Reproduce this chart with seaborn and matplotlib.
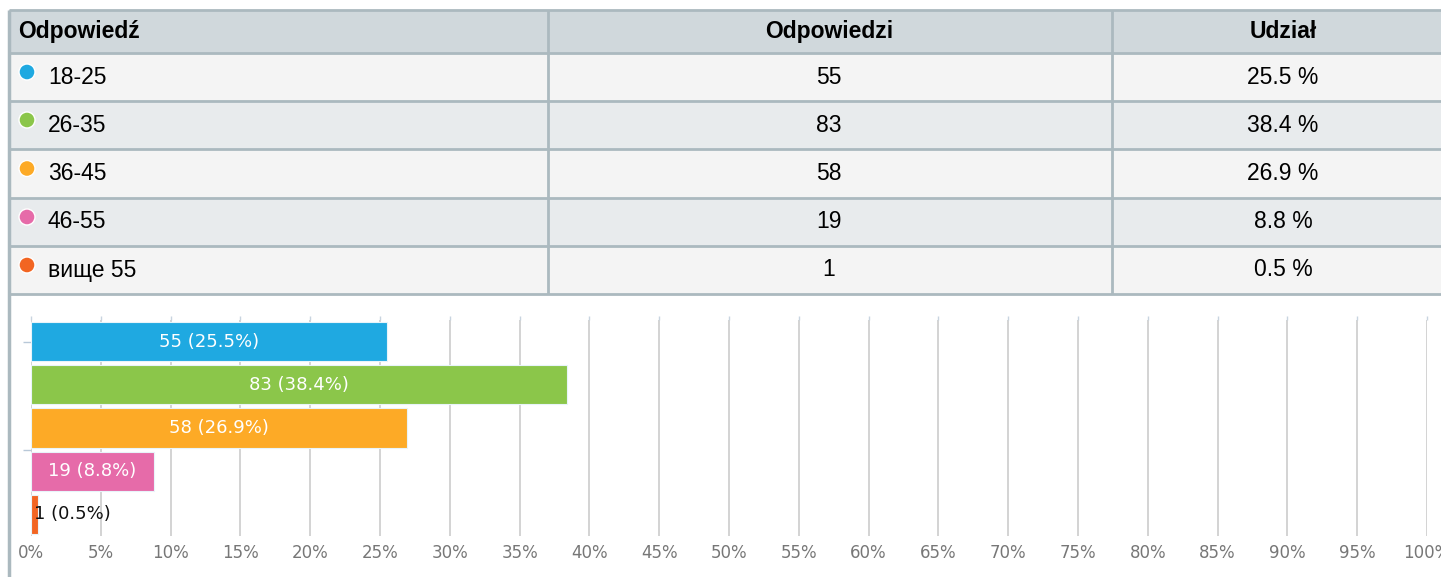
import matplotlib

matplotlib.use("Agg")

import matplotlib.pyplot as plt
import pandas as pd
import seaborn as sns
from matplotlib.patches import Circle, Rectangle

AGE_GROUPS = ["18-25", "26-35", "36-45", "46-55", "вище 55"]
COUNTS = [55, 83, 58, 19, 1]
SHARES = [25.5, 38.4, 26.9, 8.8, 0.5]
COLORS = ["#1fa9e1", "#8bc64a", "#fdaa26", "#e66ba9", "#f26522"]
HEADERS = ["Odpowiedź", "Odpowiedzi", "Udział"]
X_TICKS = list(range(0, 101, 5))

W, H = 1441, 577
BORDER = "#abb9bf"
HEADER_BG = "#d0d8dc"
ROW_BG = ["#f4f4f4", "#e8ebed"]
TABLE_FONT = "Liberation Sans"
TABLE_SIZE = 16.5

sns.set_theme(style="white")
plt.rcParams["font.family"] = ["DejaVu Sans"]

fig = plt.figure(figsize=(W / 100, H / 100), dpi=100)

# table drawn in pixel coordinates on a full-figure axes
tab = fig.add_axes([0, 0, 1, 1])
tab.set_xlim(0, W)
tab.set_ylim(H, 0)
tab.axis("off")

row_edges = [10, 53, 101, 149, 198, 246, 294]
col_edges = [9, 548, 1112, 1460]
col_centers = [None, 829, 1283]

tab.add_patch(Rectangle((9, row_edges[0]), W, row_edges[1] - row_edges[0],
                        facecolor=HEADER_BG, edgecolor="none"))
for i in range(len(AGE_GROUPS)):
    tab.add_patch(Rectangle((9, row_edges[i + 1]), W, row_edges[i + 2] - row_edges[i + 1],
                            facecolor=ROW_BG[i % 2], edgecolor="none"))

for y in row_edges:
    tab.plot([9, W], [y, y], color=BORDER, lw=2, solid_capstyle="butt")
tab.plot([9, 9], [row_edges[0], H], color=BORDER, lw=2.5, solid_capstyle="butt")
for x in col_edges[1:3]:
    tab.plot([x, x], [row_edges[0], row_edges[-1]], color=BORDER, lw=2, solid_capstyle="butt")

hy = (row_edges[0] + row_edges[1]) / 2
tab.text(18, hy, HEADERS[0], ha="left", va="center", fontsize=TABLE_SIZE,
         fontweight="bold", family=TABLE_FONT, color="#000000")
for j in (1, 2):
    tab.text(col_centers[j], hy, HEADERS[j], ha="center", va="center", fontsize=TABLE_SIZE,
             fontweight="bold", family=TABLE_FONT, color="#000000")

for i, (grp, cnt, shr, col) in enumerate(zip(AGE_GROUPS, COUNTS, SHARES, COLORS)):
    cy = (row_edges[i + 1] + row_edges[i + 2]) / 2
    tab.add_patch(Circle((27, cy - 5), 8, facecolor=col, edgecolor="white", lw=1))
    tab.text(48, cy, grp, ha="left", va="center", fontsize=TABLE_SIZE,
             family=TABLE_FONT, color="#000000")
    tab.text(col_centers[1], cy, str(cnt), ha="center", va="center", fontsize=TABLE_SIZE,
             family=TABLE_FONT, color="#000000")
    tab.text(col_centers[2], cy, f"{shr} %", ha="center", va="center", fontsize=TABLE_SIZE,
             family=TABLE_FONT, color="#000000")

# bar chart
ax_left, ax_right, ax_top, ax_bottom = 31, 1427, 320, 536
ax = fig.add_axes([ax_left / W, 1 - ax_bottom / H, (ax_right - ax_left) / W,
                   (ax_bottom - ax_top) / H])

df = pd.DataFrame({"group": AGE_GROUPS, "share": SHARES, "count": COUNTS})
sns.barplot(data=df, x="share", y="group", hue="group", palette=COLORS,
            order=AGE_GROUPS, hue_order=AGE_GROUPS, width=0.91, legend=False,
            saturation=1, edgecolor="#e8f4fa", linewidth=0.8, ax=ax, orient="h")

ax.set_xlim(0, 100)
ax.set_ylim(4.5, -0.5)
ax.set_xticks(X_TICKS)
ax.set_xticklabels([f"{t}%" for t in X_TICKS], fontsize=12, color="#777777")
ax.set_yticks([0, 2.5])
ax.set_yticklabels([])
ax.tick_params(axis="y", left=True, length=6, width=1, color="#b8c8d8")
ax.tick_params(axis="x", bottom=False, top=True, labelbottom=True, labeltop=False,
               length=3, width=1, color="#c8d4e0", pad=3)
ax.xaxis.grid(True, color="#cccccc", lw=1.2)
ax.set_axisbelow(True)
for spine in ax.spines.values():
    spine.set_visible(False)
ax.set_xlabel("")
ax.set_ylabel("")

for i, (cnt, shr) in enumerate(zip(COUNTS, SHARES)):
    label = f"{cnt} ({shr}%)"
    if shr > 5:
        ax.text(shr / 2, i, label, ha="center", va="center", fontsize=13, color="white")
    else:
        ax.text(0.2, i, label, ha="left", va="center", fontsize=13, color="#111111")

fig.savefig("out.png", dpi=100, facecolor="white")
